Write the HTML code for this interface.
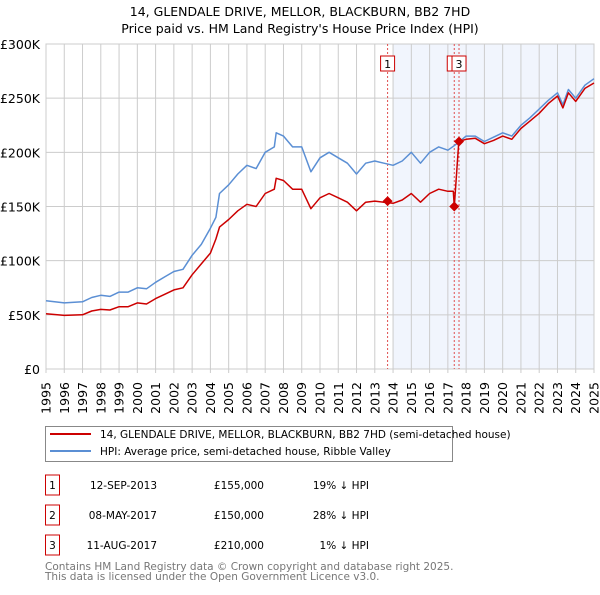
<!DOCTYPE html>
<html><head><meta charset="utf-8"><style>
body{margin:0;background:#fff;font-family:"Liberation Sans","DejaVu Sans",sans-serif;}
svg text{font-family:"DejaVu Sans","Liberation Sans",sans-serif;}
</style></head><body>
<svg id="c" width="600" height="590" xmlns="http://www.w3.org/2000/svg">
<g id="xlabels" font-size="12.5" fill="#000" text-anchor="end">
<text transform="translate(50.5,382) rotate(-90)">1995</text>
<text transform="translate(68.8,382) rotate(-90)">1996</text>
<text transform="translate(87.0,382) rotate(-90)">1997</text>
<text transform="translate(105.3,382) rotate(-90)">1998</text>
<text transform="translate(123.6,382) rotate(-90)">1999</text>
<text transform="translate(141.8,382) rotate(-90)">2000</text>
<text transform="translate(160.1,382) rotate(-90)">2001</text>
<text transform="translate(178.4,382) rotate(-90)">2002</text>
<text transform="translate(196.6,382) rotate(-90)">2003</text>
<text transform="translate(214.9,382) rotate(-90)">2004</text>
<text transform="translate(233.2,382) rotate(-90)">2005</text>
<text transform="translate(251.4,382) rotate(-90)">2006</text>
<text transform="translate(269.7,382) rotate(-90)">2007</text>
<text transform="translate(288.0,382) rotate(-90)">2008</text>
<text transform="translate(306.2,382) rotate(-90)">2009</text>
<text transform="translate(324.5,382) rotate(-90)">2010</text>
<text transform="translate(342.8,382) rotate(-90)">2011</text>
<text transform="translate(361.0,382) rotate(-90)">2012</text>
<text transform="translate(379.3,382) rotate(-90)">2013</text>
<text transform="translate(397.6,382) rotate(-90)">2014</text>
<text transform="translate(415.8,382) rotate(-90)">2015</text>
<text transform="translate(434.1,382) rotate(-90)">2016</text>
<text transform="translate(452.4,382) rotate(-90)">2017</text>
<text transform="translate(470.6,382) rotate(-90)">2018</text>
<text transform="translate(488.9,382) rotate(-90)">2019</text>
<text transform="translate(507.2,382) rotate(-90)">2020</text>
<text transform="translate(525.4,382) rotate(-90)">2021</text>
<text transform="translate(543.7,382) rotate(-90)">2022</text>
<text transform="translate(562.0,382) rotate(-90)">2023</text>
<text transform="translate(580.2,382) rotate(-90)">2024</text>
<text transform="translate(598.5,382) rotate(-90)">2025</text>
</g>
</svg>
<script>
const hpiYears=[1995,1996,1997,1997.5,1998,1998.5,1999,1999.5,2000,2000.5,2001,2001.5,2002,2002.5,2003,2003.5,2004,2004.3,2004.5,2005,2005.5,2006,2006.5,2007,2007.5,2007.6,2008,2008.5,2009,2009.5,2010,2010.5,2011,2011.5,2012,2012.5,2013,2013.5,2014,2014.5,2015,2015.5,2016,2016.5,2017,2017.5,2018,2018.5,2019,2019.5,2020,2020.5,2021,2021.5,2022,2022.5,2023,2023.3,2023.6,2024,2024.5,2025];
const hpiValues=[63,61,62,66,68,67,71,71,75,74,80,85,90,92,105,115,130,140,162,170,180,188,185,200,205,218,215,205,205,182,195,200,195,190,180,190,192,190,188,192,200,190,200,205,202,208,215,215,210,214,218,215,225,232,240,248,255,244,258,250,262,268];
const priceYears=[1995,1996,1997,1997.5,1998,1998.5,1999,1999.5,2000,2000.5,2001,2001.5,2002,2002.5,2003,2003.5,2004,2004.3,2004.5,2005,2005.5,2006,2006.5,2007,2007.5,2007.6,2008,2008.5,2009,2009.5,2010,2010.5,2011,2011.5,2012,2012.5,2013,2013.5,2014,2014.5,2015,2015.5,2016,2016.5,2017,2017.3,2017.35,2017.6,2018,2018.5,2019,2019.5,2020,2020.5,2021,2021.5,2022,2022.5,2023,2023.3,2023.6,2024,2024.5,2025];
const priceValues=[51,49.5,50,53.5,55,54.5,57.5,57.5,61,60,65,69,73,75,87,97,107,120,131,138,146,152,150,162,166,176,174,166,166,148,158,162,158,154,146,154,155,154,153,156,162,154,162,166,164,164,150,210,212,213,208,211,215,212,222,229,236,245,252,241,255,247,259,264];
const saleYears=[2013.7,2017.35,2017.61];
const saleValues=[155,150,210];
const saleLabels=["1","2","3"];
const yTicks=[0,50,100,150,200,250,300];
const yTickLabels=["£0","£50K","£100K","£150K","£200K","£250K","£300K"];
const xTicks=[];for(let y=1995;y<=2025;y++)xTicks.push(y);

const NS="http://www.w3.org/2000/svg",svg=document.getElementById('c');
const X0=46,X1=594,Y0=369,Y1=44;
const xs=v=>X0+(v-1995)/30*(X1-X0);
const ys=v=>Y0-v/300*(Y0-Y1);
function mk(t,a,p){const e=document.createElementNS(NS,t);for(const k in a)e.setAttribute(k,a[k]);(p||svg).appendChild(e);return e;}

let t=mk('text',{x:300,y:16,'text-anchor':'middle','font-size':12.5,fill:'#000'});t.textContent='14, GLENDALE DRIVE, MELLOR, BLACKBURN, BB2 7HD';


t=mk('text',{x:300,y:33,'text-anchor':'middle','font-size':12.5,fill:'#000'});t.textContent="Price paid vs. HM Land Registry's House Price Index (HPI)";



let r=mk('rect',{x:xs(2014),y:Y1,width:X1-xs(2014),height:Y0-Y1,fill:'#eef3fc',opacity:0.8});



yTicks.forEach((v,i)=>{
 const l=mk('line',{x1:X0,x2:X1,y1:ys(v),y2:ys(v),stroke:'#ccc','stroke-width':1});
 
 
 const tx=mk('text',{x:40,y:ys(v)+5,'text-anchor':'end','font-size':12.5,fill:'#000'});tx.textContent=yTickLabels[i];
 
 
});
xTicks.forEach((v,i)=>{
 const l=mk('line',{x1:xs(v),x2:xs(v),y1:Y1,y2:Y0+4,stroke:'#ccc','stroke-width':1});
 
 
});
r=mk('rect',{x:X0,y:Y1,width:X1-X0,height:Y0-Y1,fill:'none',stroke:'#ccc'});



saleYears.forEach((v,i)=>{
 const l=mk('line',{x1:xs(v),x2:xs(v),y1:Y1,y2:Y0,stroke:'#e05050','stroke-width':1,'stroke-dasharray':'2,2'});
 
 
});
saleYears.forEach((v,i)=>{
 const g=mk('g',{});
 
 
 const bx=xs(v)-7;
 mk('rect',{x:bx,y:56,width:14,height:15,fill:'#fff',stroke:'#cc0000','stroke-width':1},g);
 const tx=mk('text',{x:bx+7,y:68,'text-anchor':'middle','font-size':11,fill:'#000'},g);tx.textContent=saleLabels[i];
});

function path(xa,va,col,name){
 const d=xa.map((x,i)=>(i?'L':'M')+xs(x).toFixed(1)+','+ys(va[i]).toFixed(1)).join('');
 const p=mk('path',{d:d,fill:'none',stroke:col,'stroke-width':1.5,'stroke-linejoin':'round'});
 
 
}
path(hpiYears,hpiValues,'#5b8fd4','hpi-line');
path(priceYears,priceValues,'#cc0000','price-paid-line');
saleYears.forEach((v,i)=>{
 const x=xs(v),y=ys(saleValues[i]);
 const p=mk('path',{d:`M${x},${y-5}L${x+5},${y}L${x},${y+5}L${x-5},${y}Z`,fill:'#cc0000'});
 
 
});

const lg=mk('g',{});


mk('rect',{x:45.5,y:426.5,width:407,height:35,fill:'#fff',stroke:'#888','stroke-width':1},lg);
mk('line',{x1:50,x2:91,y1:434,y2:434,stroke:'#cc0000','stroke-width':2},lg);
mk('line',{x1:50,x2:91,y1:451,y2:451,stroke:'#5b8fd4','stroke-width':2},lg);
t=mk('text',{x:100,y:438,'font-size':10.5,fill:'#000'},lg);t.textContent='14, GLENDALE DRIVE, MELLOR, BLACKBURN, BB2 7HD (semi-detached house)';


t=mk('text',{x:100,y:455,'font-size':10.5,fill:'#000'},lg);t.textContent='HPI: Average price, semi-detached house, Ribble Valley';



const rows=[["1","12-SEP-2013","£155,000","19% ↓ HPI"],["2","08-MAY-2017","£150,000","28% ↓ HPI"],["3","11-AUG-2017","£210,000","1% ↓ HPI"]];
rows.forEach((rw,i)=>{
 const y=485+i*30;
 const g=mk('g',{});
 
 
 mk('rect',{x:45.5,y:y-10,width:14,height:20,fill:'#fff',stroke:'#cc0000'},g);
 let a=mk('text',{x:52.5,y:y+4,'text-anchor':'middle','font-size':10.5},g);a.textContent=rw[0];
 a=mk('text',{x:157,y:y+4,'text-anchor':'end','font-size':10.5},g);a.textContent=rw[1];
 a=mk('text',{x:264,y:y+4,'text-anchor':'end','font-size':10.5},g);a.textContent=rw[2];
 a=mk('text',{x:369,y:y+4,'text-anchor':'end','font-size':10.5},g);a.textContent=rw[3];
});
t=mk('text',{x:45,y:570,'font-size':10.5,fill:'#777'});t.textContent='Contains HM Land Registry data © Crown copyright and database right 2025.';


t=mk('text',{x:45,y:580,'font-size':10.5,fill:'#777'});t.textContent='This data is licensed under the Open Government Licence v3.0.';


</script>
</body></html>
